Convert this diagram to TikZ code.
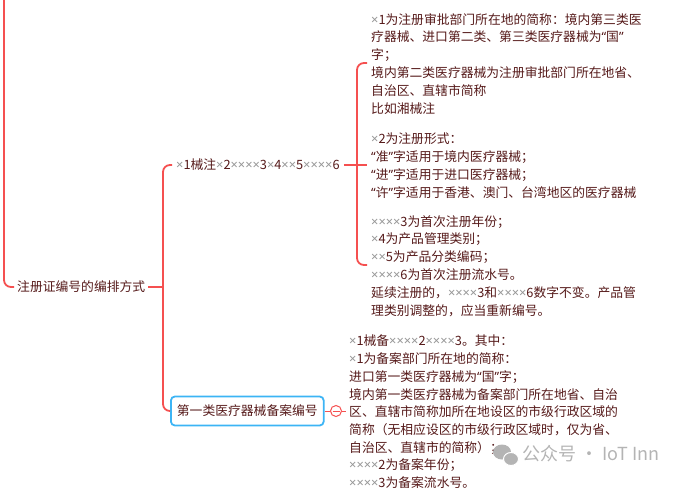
\documentclass[tikz,border=0pt]{standalone}
\usepackage{fontspec}
\setmainfont{Noto Sans CJK SC}
\newfontfamily\latin{Noto Sans}
\definecolor{brun}{RGB}{85,25,25}
\definecolor{rouge}{RGB}{245,80,80}
\definecolor{bleu}{RGB}{60,180,245}
\definecolor{gris}{RGB}{150,150,150}
\definecolor{filigrane}{RGB}{180,180,180}
\newcommand{\cha}{{\latin\color{gris}×}}
\newcommand{\guil}[1]{{\latin “}#1{\latin ”}}

\begin{document}
\begin{tikzpicture}[x=1pt,y=-1pt]
	\tikzstyle{texte}=[inner sep=0pt,text=brun,font=\fontsize{12.8}{17.9}\selectfont,align=left]
	\tikzstyle{branche}=[draw=rouge,line width=1.8pt,rounded corners=7pt]
	\tikzstyle{fine}=[draw=rouge,line width=1pt]
	\tikzstyle{boite}=[texte,draw=bleu,line width=1.8pt,rounded corners=4pt,inner xsep=6pt,minimum height=29pt]
	\useasboundingbox (0,0) rectangle (682,495);
	% noeuds
	\node[texte,anchor=west] (racine) at (17,287) {注册证编号的编排方式};
	\node[texte,anchor=west] (zhuce) at (176,165) {\cha1械注\cha2\cha\cha\cha\cha3\cha4\cha\cha5\cha\cha\cha\cha6};
	\node[texte,anchor=north west] (detailzhuce) at (371,13) {\cha1为注册审批部门所在地的简称：境内第三类医\\
		疗器械、进口第二类、第三类医疗器械为\guil{国}\\
		字；\\
		境内第二类医疗器械为注册审批部门所在地省、\\
		自治区、直辖市简称\\
		比如湘械注\\[12pt]
		\cha2为注册形式：\\
		\guil{准}字适用于境内医疗器械；\\
		\guil{进}字适用于进口医疗器械；\\
		\guil{许}字适用于香港、澳门、台湾地区的医疗器械\\[11pt]
		\cha\cha\cha\cha3为首次注册年份；\\
		\cha4为产品管理类别；\\
		\cha\cha5为产品分类编码；\\
		\cha\cha\cha\cha6为首次注册流水号。\\
		延续注册的，\cha\cha\cha\cha3和\cha\cha\cha\cha6数字不变。产品管\\
		理类别调整的，应当重新编号。};
	\node[boite,anchor=west] (beian) at (170,411) {第一类医疗器械备案编号};
	\node[circle,fine,minimum size=11pt,inner sep=0pt] (replier) at (336,411) {};
	\node[texte,anchor=north west,font=\fontsize{12.8}{17.7}\selectfont] (detailbeian) at (349,335) {\cha1械备\cha\cha\cha\cha2\cha\cha\cha\cha3。其中：\\
		\cha1为备案部门所在地的简称：\\
		进口第一类医疗器械为\guil{国}字；\\
		境内第一类医疗器械为备案部门所在地省、自治\\
		区、直辖市简称加所在地设区的市级行政区域的\\
		简称（无相应设区的市级行政区域时，仅为省、\\
		自治区、直辖市的简称）；\\
		\cha\cha\cha\cha2为备案年份；\\
		\cha\cha\cha\cha3为备案流水号。};
	% points libres
	\coordinate (haut) at (4,-2);
	\coordinate (n1) at (163,287);
	\coordinate (pivot) at (357,165);
	\coordinate (fin1) at (367,165);
	\coordinate (crochethaut) at (367,63);
	\coordinate (crochetbas) at (367,265);
	\coordinate (fin2) at (346,411);
	% liens
	\draw[branche,shorten >=3pt] (haut) |- (racine.west);
	\draw[branche,shorten <=3pt] (racine.east) -- (n1);
	\draw[branche,shorten >=4pt] (n1) |- (zhuce.west);
	\draw[branche] (n1) |- (beian.west);
	\draw[branche,shorten <=4pt] (zhuce.east) -- (fin1);
	\draw[branche] (crochethaut) -| (pivot) |- (crochetbas);
	\draw[fine] (beian.east) -- (replier.west);
	\draw[fine] (replier.east) -- (fin2);
	\draw[fine] ([xshift=2.5pt]replier.west) -- ([xshift=-2.5pt]replier.east);
	% filigrane
	\fill[filigrane] (502,452) ellipse (9pt and 7.5pt);
	\fill[filigrane,draw=white,line width=1pt] (511,459) ellipse (7.5pt and 6.5pt);
	\node[anchor=west,text=filigrane,font=\fontsize{18}{18}\selectfont,inner sep=0pt] (marque) at (522,454) {公众号 · IoT Inn};
\end{tikzpicture}
\end{document}
